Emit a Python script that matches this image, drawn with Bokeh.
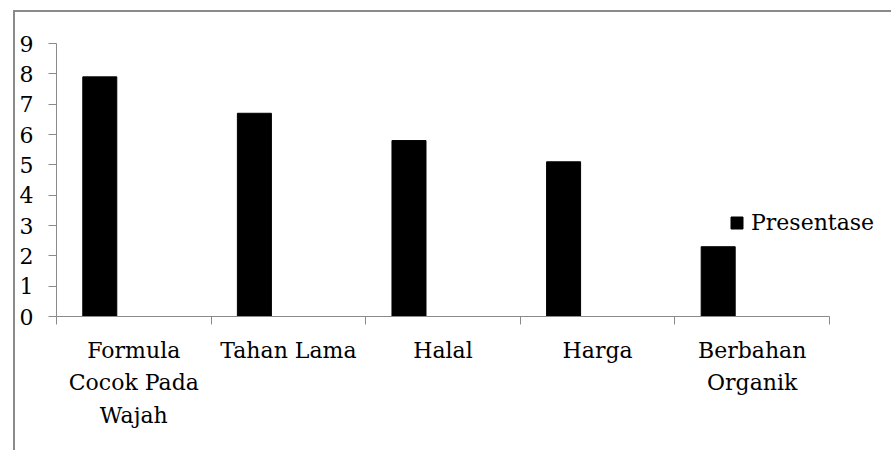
from bokeh.plotting import figure
from bokeh.models import (ColumnDataSource, Range1d, LinearAxis,
                          FixedTicker, Legend, LegendItem)
from bokeh.transform import dodge
from bokeh.embed import file_html
from bokeh.resources import INLINE

categories = ["Formula Cocok Pada Wajah", "Tahan Lama", "Halal", "Harga", "Berbahan Organik"]
tick_labels = ["Formula\nCocok Pada\nWajah", "Tahan Lama", "Halal", "Harga", "Berbahan\nOrganik"]
presentase = [7.9, 6.7, 5.8, 5.1, 2.3]
series_name = "Presentase"
y_ticks = [0, 1, 2, 3, 4, 5, 6, 7, 8, 9]

FONT = "DejaVu Serif"
GRAY = "#8a8a8a"

n = len(categories)
centers = [i + 0.5 for i in range(n)]
bounds = list(range(n + 1))
source = ColumnDataSource(dict(cat=categories, xc=centers, val=presentase))

# frame extends past the last category so the legend has room (axis line limited by bounds)
p = figure(width=878, height=440, x_range=Range1d(0, n + 0.414), y_range=Range1d(0, 9),
           x_axis_location=None, y_axis_location=None,
           output_backend="svg", toolbar_location=None,
           min_border_left=41, min_border_top=31, min_border_right=0, min_border_bottom=136)
p.styles = {"border-top": f"2px solid {GRAY}", "border-left": f"2px solid {GRAY}",
            "margin-left": "13px", "margin-top": "10px"}
p.outline_line_color = None
p.xgrid.visible = False
p.ygrid.visible = False

r = p.vbar(x=dodge("xc", -0.22), top="val", width=0.22, source=source,
           fill_color="black", line_color="black")

# y axis
yax = LinearAxis(ticker=FixedTicker(ticks=y_ticks))
yax.axis_line_color = GRAY
yax.major_tick_line_color = GRAY
yax.major_tick_out = 8
yax.major_tick_in = 0
yax.minor_tick_line_color = None
yax.major_label_text_font = FONT
yax.major_label_text_font_size = "22px"
yax.major_label_text_color = "black"
yax.major_label_standoff = 15
p.add_layout(yax, "left")

# category axis: labels at centers, tick marks at category boundaries
cax = LinearAxis(ticker=FixedTicker(ticks=centers, minor_ticks=bounds), bounds=(0, n))
cax.axis_line_color = GRAY
cax.major_tick_line_color = None
cax.minor_tick_line_color = GRAY
cax.minor_tick_out = 8
cax.minor_tick_in = 0
cax.major_label_text_font = FONT
cax.major_label_text_font_size = "22px"
cax.major_label_text_color = "black"
cax.major_label_text_line_height = 1.3
cax.major_label_standoff = 13
cax.major_label_overrides = dict(zip(centers, tick_labels))
p.add_layout(cax, "below")

legend = Legend(items=[LegendItem(label=series_name, renderers=[r])], location=(673, 81))
legend.border_line_color = None
legend.background_fill_alpha = 0
legend.padding = 0
legend.margin = 0
legend.spacing = 0
legend.glyph_width = 15
legend.glyph_height = 15
legend.label_standoff = 7
legend.label_text_font = FONT
legend.label_text_font_size = "22px"
legend.label_text_color = "black"
p.add_layout(legend, "center")

open("out.html", "w").write(file_html(p, INLINE))
